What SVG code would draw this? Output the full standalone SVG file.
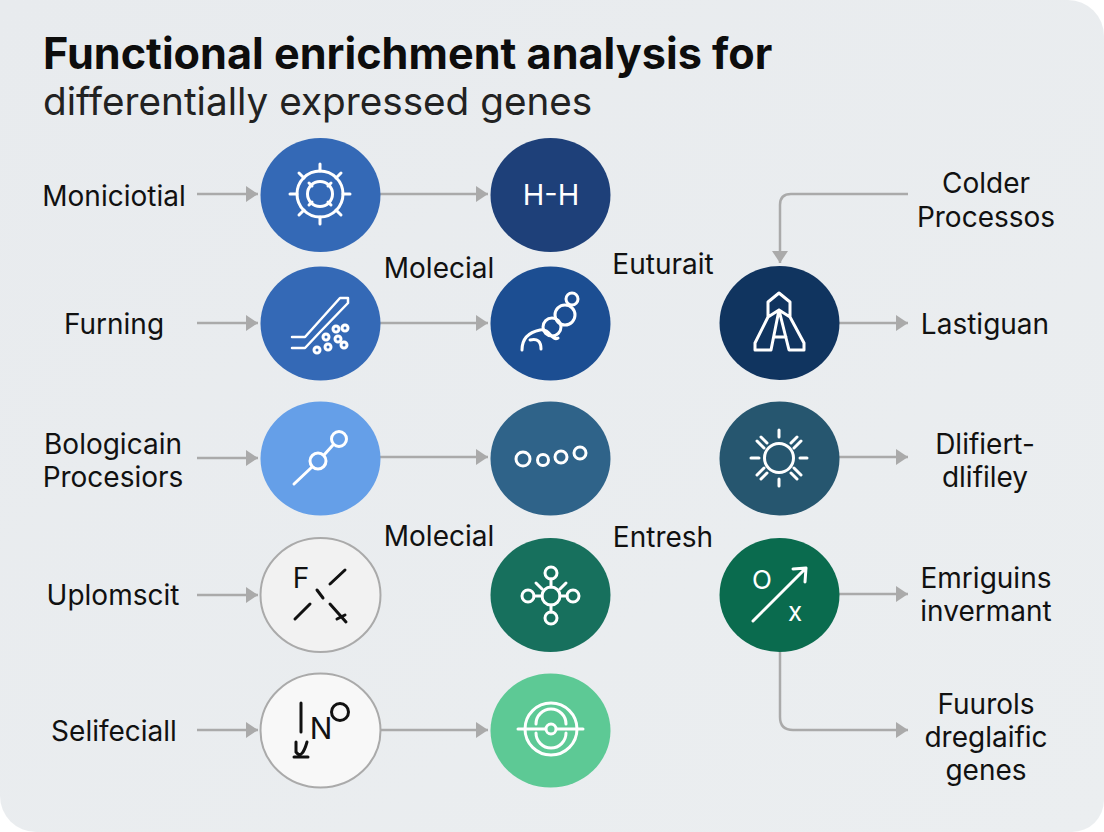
<svg xmlns="http://www.w3.org/2000/svg" width="1104" height="832" viewBox="0 0 1104 832">
<style>
text{font-family:"Inter","Liberation Sans",sans-serif;fill:#111}
.l{font-size:28px;text-anchor:middle}
.i{fill:none;stroke:#fff;stroke-width:3;stroke-linecap:round;stroke-linejoin:round}
.k{fill:none;stroke:#111;stroke-width:3;stroke-linecap:round}
.c{fill:none;stroke:#aaa;stroke-width:2.5;}
.it{font-size:29px;fill:#fff;text-anchor:middle}
.kt{font-size:28px;fill:#111;text-anchor:middle}
</style>
<defs>
<linearGradient id="bg" x1="0" y1="0" x2="1" y2="1"><stop offset="0" stop-color="#e8ebee"/><stop offset="1" stop-color="#ebeef0"/></linearGradient>
<marker id="a" markerUnits="userSpaceOnUse" markerWidth="14" markerHeight="18" refX="12" refY="8" orient="auto"><path d="M0 0L12 8L0 16Z" fill="#aaa"/></marker>
</defs>
<rect width="1104" height="832" fill="#fff"/>
<path id="page" d="M0 0H1068A36 36 0 0 1 1104 36V800A32 32 0 0 1 1072 832H36A36 36 0 0 1 0 796Z" fill="url(#bg)"/>
<text x="43" y="69" font-size="43.200" font-weight="700" style="fill:#0d0d0d">Functional enrichment analysis for</text>
<text x="43" y="115" font-size="38.700" style="fill:#222">differentially expressed genes</text>
<g id="connectors">
<path class="c" marker-end="url(#a)" d="M197 194H258"/><path class="c" marker-end="url(#a)" d="M380 194H488"/>
<path class="c" marker-end="url(#a)" d="M197 323H258"/><path class="c" marker-end="url(#a)" d="M380 323H488"/>
<path class="c" marker-end="url(#a)" d="M197 458H258"/><path class="c" marker-end="url(#a)" d="M380 457H488"/>
<path class="c" marker-end="url(#a)" d="M197 595H258"/>
<path class="c" marker-end="url(#a)" d="M197 730H258"/><path class="c" marker-end="url(#a)" d="M380 730H488"/>
<path class="c" marker-end="url(#a)" d="M908 194H791Q780 194 780 205V263"/>
<path class="c" marker-end="url(#a)" d="M838 323H908"/><path class="c" marker-end="url(#a)" d="M838 457H908"/>
<path class="c" marker-end="url(#a)" d="M838 594H908"/>
<path class="c" marker-end="url(#a)" d="M780 652V717Q780 730 793 730H908"/>
</g>
<g id="n1"><ellipse cx="320.500" cy="195" rx="60" ry="57" fill="#3469b6"/><g class="i"><circle cx="320" cy="194" r="23"/><circle cx="320" cy="194" r="12.500"/><path d="M320 164v7M320 217v7M290 194h7M343 194h7M299 173l5 5M341 173l-5 5M299 215l5-5M341 215l-5-5M309 183l3 3M331 183l-3 3M309 205l3-3M331 205l-3-3"/></g></g>
<g id="n2"><ellipse cx="550.500" cy="195" rx="60" ry="57" fill="#1e4079"/><text class="it" x="551" y="205">H-H</text></g>
<g id="n3"><ellipse cx="320.500" cy="323.500" rx="60" ry="57" fill="#3469b6"/><g class="i"><path d="M292 337H305L340 298H348V303L320 332L305 348H292" stroke-width="2.500"/><circle cx="345" cy="328" r="3"/><circle cx="336" cy="329" r="3"/><circle cx="326" cy="337" r="3"/><circle cx="317" cy="350" r="3"/><circle cx="328" cy="347" r="3"/><circle cx="338" cy="339" r="3"/><circle cx="344" cy="345" r="3"/></g></g>
<g id="n4"><ellipse cx="550.500" cy="323.500" rx="60" ry="57" fill="#1c4e92"/><g class="i"><circle cx="572" cy="299" r="6"/><circle cx="565" cy="315" r="10"/><circle cx="552" cy="327" r="9"/><path d="M522 350C522 338 530 332 540 330C550 328 552 342 558 338M541 349C541 342 538 338 530 340"/></g></g>
<g id="n5"><ellipse cx="320.500" cy="458.500" rx="60" ry="57" fill="#659fe8"/><g class="i"><circle cx="318" cy="461" r="8"/><circle cx="339" cy="439" r="7.500"/><path d="M294 484L312 467M324 455L333 445"/></g></g>
<g id="n6"><ellipse cx="550.500" cy="458.500" rx="60" ry="57" fill="#2f6389"/><g class="i"><circle cx="523" cy="459" r="7"/><circle cx="543" cy="460" r="5.500"/><circle cx="561" cy="457" r="6"/><circle cx="580" cy="453" r="6"/></g></g>
<g id="n7"><ellipse cx="320.500" cy="595" rx="60" ry="57" fill="#f2f2f2" stroke="#aaa" stroke-width="2"/><text class="kt" x="301" y="588">F</text><g class="k"><path d="M345 570L330 584M317 590L323 598M310 604L295 619M330 604L346 622M337 619L345 615"/></g></g>
<g id="n8"><ellipse cx="550.500" cy="595" rx="60" ry="57" fill="#17705d"/><g class="i"><circle cx="551" cy="596" r="9"/><circle cx="551" cy="573" r="6"/><circle cx="551" cy="618" r="6"/><circle cx="528" cy="596" r="6"/><circle cx="573" cy="596" r="6"/><path d="M551 579V587M551 605V612M534 596H542M560 596H567M536 583L542 589M566 583L560 589"/></g></g>
<g id="n9"><ellipse cx="320.500" cy="730.500" rx="60" ry="57" fill="#f8f8f8" stroke="#aaa" stroke-width="2"/><text class="kt" x="321" y="739" style="font-size:30px">N</text><g class="k"><circle cx="340" cy="712" r="8.500"/><path d="M301 703V732M296 742V752Q302 760 307 742M294 757H308"/></g></g>
<g id="n10"><ellipse cx="550.500" cy="730.500" rx="60" ry="57" fill="#5dc995"/><g class="i"><circle cx="551" cy="729" r="5"/><circle cx="551" cy="729" r="26"/><path d="M518 729H545M557 729H583M536 733A15 15 0 0 0 566 733M536 724A15 15 0 0 1 566 724"/></g></g>
<g id="n11"><ellipse cx="779.500" cy="323" rx="60" ry="57" fill="#10345f"/><g class="i"><path d="M768 317V302L779 293L790 302V317L779 310ZM768 317L755 343V350H771L779 310L789 350H804V343L790 317M774 337H786"/></g></g>
<g id="n12"><ellipse cx="779.500" cy="458.500" rx="60" ry="57" fill="#26566f"/><g class="i"><circle cx="779" cy="458" r="14.500"/><path d="M779 430V437M779 479V486M751 458H759M800 458H807M757 441L764 448M761 437L767 443M801 441L794 448M797 437L791 443M757 475L764 468M761 479L767 473M801 475L794 468M797 479L791 473"/></g></g>
<g id="n13"><ellipse cx="779.500" cy="595" rx="60" ry="57" fill="#0a6b4e"/><g class="i"><path d="M753 621L806 568M793 569L806 568L805 582"/></g><text class="it" x="762" y="589" style="font-size:26px">O</text><text class="it" x="795" y="621" style="font-size:26px">x</text></g>
<g id="labels">
<text class="l" x="114" y="206">Moniciotial</text>
<text class="l" x="114" y="334">Furning</text>
<text class="l" x="113" y="454">Bologicain</text><text class="l" x="113" y="487">Procesiors</text>
<text class="l" x="113" y="605">Uplomscit</text>
<text class="l" x="114" y="741">Selifeciall</text>
<text class="l" x="439" y="278">Molecial</text>
<text class="l" x="439" y="546">Molecial</text>
<text class="l" x="663" y="274">Euturait</text>
<text class="l" x="663" y="547">Entresh</text>
<text class="l" x="986" y="193">Colder</text><text class="l" x="986" y="227">Processos</text>
<text class="l" x="985" y="334">Lastiguan</text>
<text class="l" x="985" y="454">Dlifiert-</text><text class="l" x="985" y="487">dlifiley</text>
<text class="l" x="986" y="588">Emriguins</text><text class="l" x="986" y="621">invermant</text>
<text class="l" x="986" y="714">Fuurols</text><text class="l" x="986" y="747">dreglaific</text><text class="l" x="986" y="780">genes</text>
</g>
</svg>
